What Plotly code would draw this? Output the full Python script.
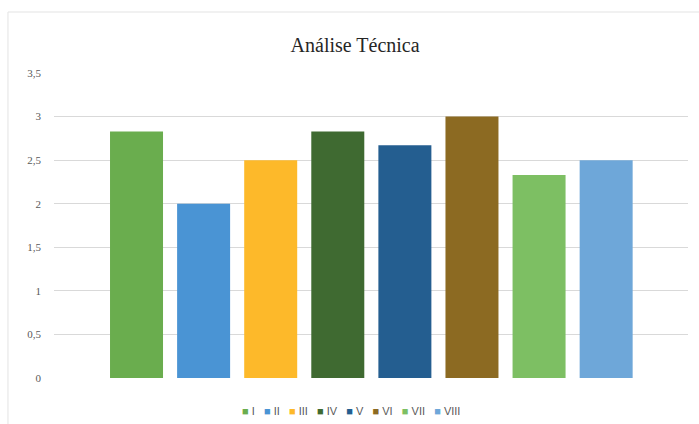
import plotly.graph_objects as go

categories = ["I", "II", "III", "IV", "V", "VI", "VII", "VIII"]
values = [2.83, 2.0, 2.5, 2.83, 2.67, 3.0, 2.33, 2.5]
colors = ["#6AAD4E", "#4A94D4", "#FDB92A", "#3F6A31", "#245E90", "#8C6A22", "#7DBF63", "#6EA7D9"]
y_ticks = [0, 0.5, 1, 1.5, 2, 2.5, 3, 3.5]

fig = go.Figure()
for name, val, col in zip(categories, values, colors):
    fig.add_trace(go.Bar(x=[name], y=[val], name=name, marker=dict(color=col, line=dict(width=0)),
                         width=0.79, showlegend=False))

legend_text = "&nbsp;&nbsp;&nbsp;".join(
    f"<span style='color:{c}'>■</span>&nbsp;<span style='color:#595959'>{n}</span>"
    for n, c in zip(categories, colors)
)

fig.update_layout(
    width=699, height=424,
    margin=dict(l=54, r=11, t=73, b=46, autoexpand=False),
    paper_bgcolor="white", plot_bgcolor="white",
    barmode="overlay",
    separators=",.",
    title=dict(text="Análise Técnica", x=0.508, xanchor="center", y=0.895, yanchor="middle",
               font=dict(family="Liberation Serif", size=20, color="#262626")),
    xaxis=dict(type="category", range=[-1.23, 8.22], showticklabels=False, showgrid=False,
               zeroline=False, showline=False, ticks=""),
    yaxis=dict(range=[0, 3.5], tickvals=y_ticks, showgrid=True, gridcolor="#D9D9D9", gridwidth=1,
               zeroline=False, showline=False, ticks="", ticklabelstandoff=12,
               tickfont=dict(family="Liberation Serif", size=11, color="#595959")),
    showlegend=False,
)
fig.add_annotation(text=legend_text, xref="paper", yref="paper", x=0.468, y=(378 - 411) / 305,
                   xanchor="center", yanchor="middle", showarrow=False,
                   font=dict(family="Liberation Sans", size=11, color="#595959"))
fig.add_shape(type="rect", xref="paper", yref="paper", x0=-0.0726, x1=1.05, y0=-0.3, y1=1.2,
              line=dict(color="#E3E3E3", width=1), layer="below")
fig.write_html("out.html")
